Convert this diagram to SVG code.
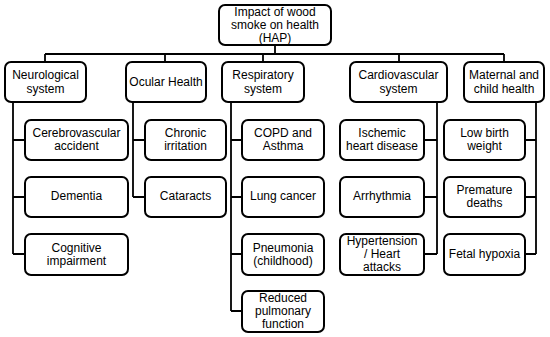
<svg xmlns="http://www.w3.org/2000/svg" width="550" height="337" viewBox="0 0 550 337">
<style>
.box{fill:#fff;stroke:#000;stroke-width:2}
.ln{fill:none;stroke:#000;stroke-width:1.8}
text{font-family:"Liberation Sans",Arial,sans-serif;font-size:12px;fill:#000;text-anchor:middle}
</style>
<rect width="550" height="337" fill="#fff"/>
<g id="connectors" class="ln">
<path d="M275 45V54M45 54H504M45 54V62M165 54V62M263 54V62M399 54V62M504 54V62"/>
<path d="M13 102V254M13 140H25M13 197H25M13 254H25"/>
<path d="M133 102V197M133 140H145M133 197H145"/>
<path d="M231 102V311M231 140H242M231 197H242M231 254H242M231 311H242"/>
<path d="M437 102V254M437 140H424M437 197H424M437 254H424"/>
<path d="M536 102V254M536 140H525M536 197H525M536 254H525"/>
</g>
<g id="root"><rect class="box" x="219" y="5" width="112" height="40" rx="6"/><text x="275" y="15.5">Impact of wood</text><text x="275" y="28.5">smoke on health</text><text x="275" y="41.5">(HAP)</text></g>
<g id="neuro"><rect class="box" x="5" y="62" width="81" height="40" rx="6"/><text x="45.5" y="79">Neurological</text><text x="45.5" y="93">system</text></g>
<g id="ocular"><rect class="box" x="126" y="62" width="80" height="40" rx="6"/><text x="166" y="86">Ocular Health</text></g>
<g id="resp"><rect class="box" x="222" y="62" width="82" height="40" rx="6"/><text x="263" y="79">Respiratory</text><text x="263" y="93">system</text></g>
<g id="cardio"><rect class="box" x="350" y="62" width="97" height="40" rx="6"/><text x="398.5" y="79">Cardiovascular</text><text x="398.5" y="93">system</text></g>
<g id="maternal"><rect class="box" x="464" y="62" width="80" height="40" rx="6"/><text x="504" y="79">Maternal and</text><text x="504" y="93">child health</text></g>
<g id="cerebro"><rect class="box" x="25" y="120" width="103" height="40" rx="6"/><text x="76.5" y="137">Cerebrovascular</text><text x="76.5" y="150">accident</text></g>
<g id="dementia"><rect class="box" x="25" y="177" width="103" height="40" rx="6"/><text x="76.5" y="200">Dementia</text></g>
<g id="cognitive"><rect class="box" x="25" y="234" width="103" height="41" rx="6"/><text x="76.5" y="252">Cognitive</text><text x="76.5" y="265">impairment</text></g>
<g id="chronic"><rect class="box" x="145" y="120" width="81" height="40" rx="6"/><text x="185.5" y="137">Chronic</text><text x="185.5" y="150">irritation</text></g>
<g id="cataracts"><rect class="box" x="145" y="177" width="81" height="40" rx="6"/><text x="185.5" y="200">Cataracts</text></g>
<g id="copd"><rect class="box" x="242" y="120" width="82" height="40" rx="6"/><text x="283" y="137">COPD and</text><text x="283" y="150">Asthma</text></g>
<g id="lung"><rect class="box" x="242" y="177" width="82" height="40" rx="6"/><text x="283" y="200">Lung cancer</text></g>
<g id="pneumonia"><rect class="box" x="242" y="234" width="82" height="41" rx="6"/><text x="283" y="252">Pneumonia</text><text x="283" y="265">(childhood)</text></g>
<g id="reduced"><rect class="box" x="242" y="291" width="82" height="41" rx="6"/><text x="283" y="302">Reduced</text><text x="283" y="315">pulmonary</text><text x="283" y="328">function</text></g>
<g id="ischemic"><rect class="box" x="340" y="120" width="84" height="40" rx="6"/><text x="382" y="137">Ischemic</text><text x="382" y="150">heart disease</text></g>
<g id="arrhythmia"><rect class="box" x="340" y="177" width="84" height="40" rx="6"/><text x="382" y="200">Arrhythmia</text></g>
<g id="hypertension"><rect class="box" x="340" y="234" width="84" height="41" rx="6"/><text x="382" y="245">Hypertension</text><text x="382" y="258">/ Heart</text><text x="382" y="271">attacks</text></g>
<g id="lowbirth"><rect class="box" x="444" y="120" width="81" height="40" rx="6"/><text x="484.5" y="137">Low birth</text><text x="484.5" y="150">weight</text></g>
<g id="premature"><rect class="box" x="444" y="177" width="81" height="40" rx="6"/><text x="484.5" y="194">Premature</text><text x="484.5" y="207">deaths</text></g>
<g id="fetal"><rect class="box" x="444" y="234" width="81" height="41" rx="6"/><text x="484.5" y="258">Fetal hypoxia</text></g>
</svg>
